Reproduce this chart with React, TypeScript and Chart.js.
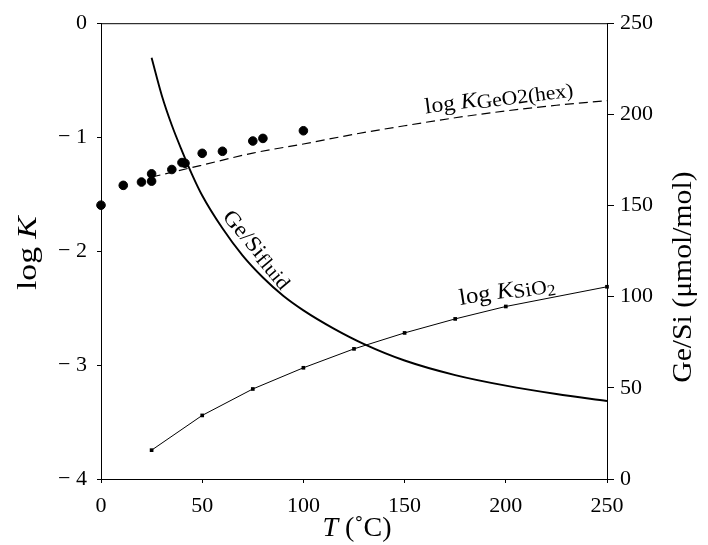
import React, { useEffect, useRef } from "react";
import { Chart, registerables } from "chart.js";

Chart.register(...registerables);

// ---- data ----
const measuredT = [0, 11, 20, 25, 25, 35, 40, 41.5, 50, 60, 75, 80, 100];
const measuredLogK = [-1.597, -1.423, -1.394, -1.322, -1.386, -1.284, -1.223, -1.229, -1.142, -1.124, -1.034, -1.011, -0.944];

const geo2T = [25, 50, 75, 100, 125, 150, 175, 200, 225, 250];
const geo2LogK = [-1.35, -1.245, -1.14, -1.06, -0.975, -0.9, -0.83, -0.77, -0.72, -0.68];

const sio2T = [25, 50, 75, 100, 125, 150, 175, 200, 250];
const sio2LogK = [-3.747, -3.442, -3.21, -3.024, -2.858, -2.718, -2.595, -2.486, -2.313];

const geSiT = [25, 30, 35, 40, 45, 50, 60, 70, 80, 90, 100, 115, 130, 150, 175, 200, 225, 250];
const geSiRatio = [231, 210.5, 194, 180, 167, 155.5, 137.5, 122.5, 110.5, 100.5, 92.5, 82.5, 74, 65, 57, 51.2, 46.6, 42.8];

const xTicks = [0, 50, 100, 150, 200, 250];
const leftTicks = [-4, -3, -2, -1, 0];
const rightTicks = [0, 50, 100, 150, 200, 250];

const FONT = "'Liberation Serif', 'Times New Roman', serif";

type Run = { text: string; size: number; italic?: boolean; dy?: number };

function drawRich(
  ctx: CanvasRenderingContext2D,
  runs: Run[],
  x: number,
  y: number,
  angleDeg: number,
  sx: number = 1
) {
  ctx.save();
  ctx.translate(x, y);
  ctx.rotate((angleDeg * Math.PI) / 180);
  ctx.scale(sx, 1);
  ctx.textBaseline = "alphabetic";
  ctx.textAlign = "left";
  ctx.fillStyle = "#000";
  let total = 0;
  const widths: number[] = [];
  for (const r of runs) {
    ctx.font = `${r.italic ? "italic " : ""}${r.size}px ${FONT}`;
    const w = ctx.measureText(r.text).width;
    widths.push(w);
    total += w;
  }
  let cx = -total / 2;
  const base = runs[0].size * 0.33;
  runs.forEach((r, i) => {
    ctx.font = `${r.italic ? "italic " : ""}${r.size}px ${FONT}`;
    ctx.fillText(r.text, cx, base + (r.dy || 0));
    cx += widths[i];
  });
  ctx.restore();
}

const labelsPlugin = {
  id: "labelsPlugin",
  afterDraw(chart: any) {
    const { ctx, chartArea, scales } = chart;
    const xs = scales.x;
    const ys = scales.y;
    // frame top line
    ctx.save();
    ctx.strokeStyle = "#000";
    ctx.lineWidth = 1;
    ctx.beginPath();
    ctx.moveTo(chartArea.left, chartArea.top + 0.5);
    ctx.lineTo(chartArea.right, chartArea.top + 0.5);
    ctx.stroke();
    ctx.restore();

    // curve annotations (anchored in data units)
    drawRich(
      ctx,
      [
        { text: "log ", size: 22 },
        { text: "K", size: 22, italic: true },
        { text: "GeO2(hex)", size: 20, dy: 2 },
      ],
      xs.getPixelForValue(196.5),
      ys.getPixelForValue(-0.645),
      -7.3,
      1.08
    );
    drawRich(
      ctx,
      [
        { text: "log ", size: 23 },
        { text: "K", size: 23, italic: true },
        { text: "SiO", size: 20, dy: 2 },
        { text: "2", size: 16, dy: 5 },
      ],
      xs.getPixelForValue(200.5),
      ys.getPixelForValue(-2.34),
      -9,
      1.08
    );
    drawRich(
      ctx,
      [
        { text: "Ge/Si", size: 22 },
        { text: "fluid", size: 20, dy: 2 },
      ],
      xs.getPixelForValue(77.5),
      ys.getPixelForValue(-1.98),
      50,
      1.08
    );

    // axis titles
    const midY = (chartArea.top + chartArea.bottom) / 2;
    drawRich(
      ctx,
      [
        { text: "log ", size: 28 },
        { text: "K", size: 28, italic: true },
      ],
      27,
      midY + 2,
      -90,
      1.2
    );
    drawRich(ctx, [{ text: "Ge/Si (\u03bcmol/mol)", size: 28 }], 682, midY + 26, -90, 1.06);
    drawRich(
      ctx,
      [
        { text: "T", size: 28, italic: true },
        { text: " (\u02daC)", size: 28 },
      ],
      (chartArea.left + chartArea.right) / 2 + 3,
      chartArea.bottom + 48,
      0
    );
  },
};

export default function App() {
  const ref = useRef<HTMLCanvasElement | null>(null);
  useEffect(() => {
    if (!ref.current) return;
    const tickFont = { family: FONT, size: 22 };
    const chart = new Chart(ref.current, {
      type: "scatter",
      data: {
        datasets: [
          {
            type: "scatter",
            data: measuredT.map((t, i) => ({ x: t, y: measuredLogK[i] })),
            backgroundColor: "#000",
            borderColor: "#000",
            pointRadius: 4.3,
            pointHoverRadius: 4.3,
            yAxisID: "y",
            clip: false,
          } as any,
          {
            type: "line",
            data: geo2T.map((t, i) => ({ x: t, y: geo2LogK[i] })),
            borderColor: "#000",
            borderWidth: 1.2,
            borderDash: [9, 5],
            pointRadius: 0,
            cubicInterpolationMode: "monotone",
            fill: false,
            yAxisID: "y",
          } as any,
          {
            type: "line",
            data: sio2T.map((t, i) => ({ x: t, y: sio2LogK[i] })),
            borderColor: "#000",
            backgroundColor: "#000",
            borderWidth: 1,
            pointStyle: "rect",
            pointRadius: 2.6,
            pointBorderWidth: 0,
            fill: false,
            yAxisID: "y",
            clip: false,
          } as any,
          {
            type: "line",
            data: geSiT.map((t, i) => ({ x: t, y: geSiRatio[i] })),
            borderColor: "#000",
            borderWidth: 1.9,
            pointRadius: 0,
            cubicInterpolationMode: "monotone",
            fill: false,
            yAxisID: "y2",
          } as any,
        ],
      },
      options: {
        animation: false,
        responsive: true,
        maintainAspectRatio: false,
        layout: { padding: { top: 20, left: 0, right: 0, bottom: 0 } },
        plugins: {
          legend: { display: false },
          tooltip: { enabled: false },
          title: { display: false },
        },
        scales: {
          x: {
            type: "linear",
            min: 0,
            max: 250,
            afterBuildTicks: (s: any) => {
              s.ticks = xTicks.map((v) => ({ value: v }));
            },
            afterFit: (s: any) => {
              s.height = 66;
            },
            ticks: { font: tickFont, color: "#000", padding: 10, maxRotation: 0 },
            grid: { display: true, drawOnChartArea: false, drawTicks: true, tickLength: 4, color: "#000" },
            border: { display: true, color: "#000", width: 1 },
          },
          y: {
            type: "linear",
            position: "left",
            min: -4,
            max: 0,
            afterBuildTicks: (s: any) => {
              s.ticks = leftTicks.map((v) => ({ value: v }));
            },
            afterFit: (s: any) => {
              s.width = 101;
            },
            ticks: {
              font: tickFont,
              color: "#000",
              padding: 10,
              callback: (v: any) => (v < 0 ? "\u2212 " + Math.abs(v) : String(v)),
            },
            grid: { display: true, drawOnChartArea: false, drawTicks: true, tickLength: 4, color: "#000" },
            border: { display: true, color: "#000", width: 1 },
          },
          y2: {
            type: "linear",
            position: "right",
            min: 0,
            max: 250,
            afterBuildTicks: (s: any) => {
              s.ticks = rightTicks.map((v) => ({ value: v }));
            },
            afterFit: (s: any) => {
              s.width = 101;
            },
            ticks: { font: tickFont, color: "#000", padding: 6 },
            grid: { display: true, drawOnChartArea: false, drawTicks: true, tickLength: 7, color: "#000" },
            border: { display: true, color: "#000", width: 1 },
          },
        },
      } as any,
      plugins: [labelsPlugin],
    });
    return () => chart.destroy();
  }, []);
  return (
    <div style={{ position: "fixed", left: 0, top: 0, width: 708, height: 545, background: "#fff" }}>
      <canvas ref={ref} />
    </div>
  );
}
